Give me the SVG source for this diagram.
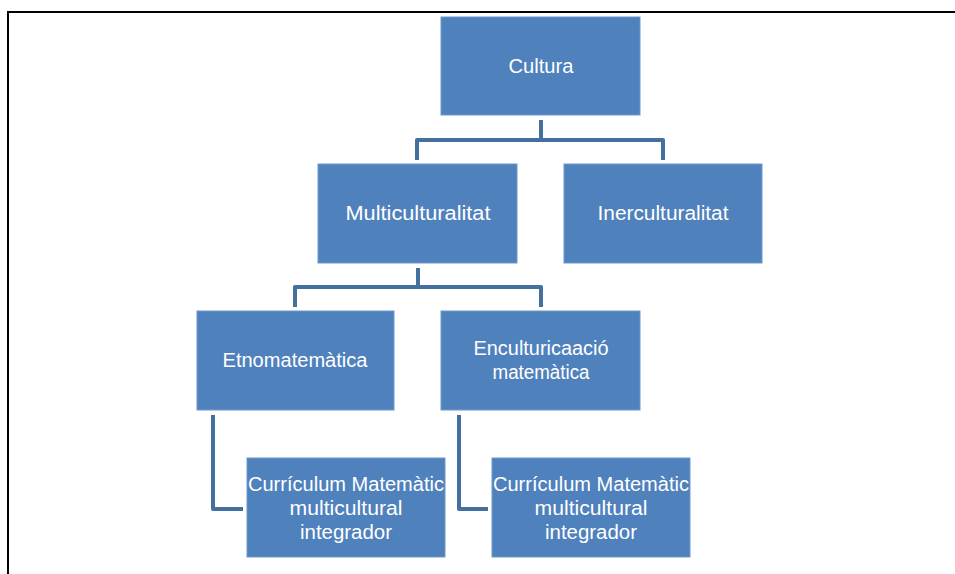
<svg xmlns="http://www.w3.org/2000/svg" width="955" height="574" viewBox="0 0 955 574">
<style>
.box{fill:#4F81BD;stroke:#6F97CB;stroke-width:1}
.t{font-family:"Liberation Sans",Arial,sans-serif;font-size:20px;fill:#FFFFFF;text-anchor:middle}
.c{fill:none;stroke:#44709F;stroke-width:4;stroke-linejoin:round}
</style>
<rect x="0" y="0" width="955" height="574" fill="#FFFFFF"/>
<path d="M8 574 V12 H955" fill="none" stroke="#000000" stroke-width="2"/>
<g id="connectors">
<path class="c" d="M541 120 V140 M417 160 V140 H663 V160"/>
<path class="c" d="M418 268 V287 M295 307 V287 H541 V307"/>
<path class="c" d="M213 415 V509 H243"/>
<path class="c" d="M459 415 V509 H488"/>
</g>
<g id="cultura"><rect class="box" x="441" y="17" width="199" height="98"/><text class="t" x="541" y="73" textLength="65" lengthAdjust="spacingAndGlyphs">Cultura</text></g>
<g id="multiculturalitat"><rect class="box" x="318" y="164" width="199" height="99"/><text class="t" x="418" y="220" textLength="145" lengthAdjust="spacingAndGlyphs">Multiculturalitat</text></g>
<g id="inerculturalitat"><rect class="box" x="564" y="164" width="198" height="99"/><text class="t" x="663" y="220" textLength="131" lengthAdjust="spacingAndGlyphs">Inerculturalitat</text></g>
<g id="etnomatematica"><rect class="box" x="197" y="311" width="197" height="99"/><text class="t" x="295" y="367" textLength="145" lengthAdjust="spacingAndGlyphs">Etnomatemàtica</text></g>
<g id="enculturacio"><rect class="box" x="441" y="311" width="199" height="99"/><text class="t" x="541" y="355" textLength="135" lengthAdjust="spacingAndGlyphs">Enculturicaació</text><text class="t" x="541" y="379" textLength="97" lengthAdjust="spacingAndGlyphs">matemàtica</text></g>
<g id="curriculum1"><rect class="box" x="247" y="458" width="198" height="99"/><text class="t" x="346" y="491" textLength="196" lengthAdjust="spacingAndGlyphs">Currículum Matemàtic</text><text class="t" x="346" y="515" textLength="113" lengthAdjust="spacingAndGlyphs">multicultural</text><text class="t" x="346" y="539" textLength="92" lengthAdjust="spacingAndGlyphs">integrador</text></g>
<g id="curriculum2"><rect class="box" x="492" y="458" width="198" height="99"/><text class="t" x="591" y="491" textLength="196" lengthAdjust="spacingAndGlyphs">Currículum Matemàtic</text><text class="t" x="591" y="515" textLength="113" lengthAdjust="spacingAndGlyphs">multicultural</text><text class="t" x="591" y="539" textLength="92" lengthAdjust="spacingAndGlyphs">integrador</text></g>
</svg>
